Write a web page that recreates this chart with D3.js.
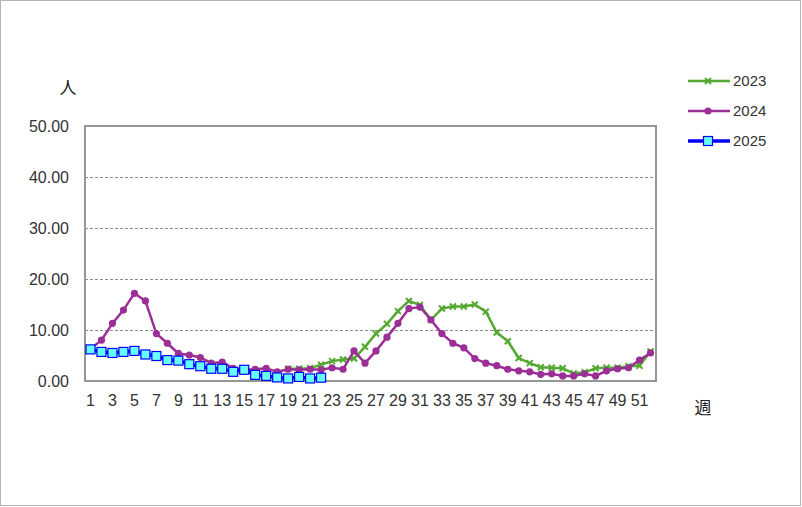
<!DOCTYPE html>
<html><head><meta charset="utf-8">
<script src="https://cdn.jsdelivr.net/npm/d3@7"></script>
<style>body{margin:0;background:#fff;} svg{display:block;}</style>
</head><body>
<svg id="c" width="802" height="507"></svg>
<script>
const weeks = d3.range(1, 53);
const xTickLabels = d3.range(1, 52, 2);
const yTicks = [0, 10, 20, 30, 40, 50];
const seriesNames = ["2023", "2024", "2025"];
const start2023 = 19;
const values2023 = [2.4, 2.4, 2.5, 3.2, 3.9, 4.2, 4.4, 6.7, 9.3, 11.2, 13.7, 15.7, 14.9, 12.0, 14.2, 14.6, 14.6, 15.0, 13.6, 9.5, 7.8, 4.5, 3.5, 2.7, 2.6, 2.5, 1.5, 1.7, 2.5, 2.6, 2.6, 2.9, 3.0, 5.8];
const values2024 = [6.3, 8.0, 11.3, 13.9, 17.2, 15.7, 9.3, 7.4, 5.4, 5.1, 4.6, 3.5, 3.7, 2.5, 2.2, 2.3, 2.5, 1.8, 2.3, 2.2, 2.3, 2.2, 2.6, 2.3, 5.9, 3.5, 5.9, 8.6, 11.3, 14.2, 14.5, 12.0, 9.3, 7.4, 6.5, 4.4, 3.5, 3.0, 2.3, 2.0, 1.8, 1.3, 1.4, 1.0, 1.0, 1.4, 1.0, 2.0, 2.4, 2.6, 4.1, 5.5];
const values2025 = [6.2, 5.7, 5.5, 5.7, 5.9, 5.2, 4.9, 4.1, 4.0, 3.3, 2.9, 2.4, 2.4, 1.8, 2.2, 1.2, 1.0, 0.7, 0.5, 0.8, 0.5, 0.65];

const svg = d3.select("#c");
const W = 802, H = 507;
const m = {left: 85, right: 146, top: 126, bottom: 126};
const x = d3.scaleBand().domain(weeks).range([m.left, W - m.right]);
const y = d3.scaleLinear().domain([0, 50]).range([H - m.bottom, m.top]);
const font = "'Liberation Sans', Arial, sans-serif";

svg.append("rect").attr("x", 0.5).attr("y", 0.5).attr("width", 800).attr("height", 505)
  .attr("fill", "#fff").attr("stroke", "#b4b4b4");

// grid
svg.append("g").selectAll("line").data(yTicks.filter(d => d > 0 && d < 50)).join("line")
  .attr("x1", m.left).attr("x2", W - m.right)
  .attr("y1", d => Math.round(y(d)) + 0.5).attr("y2", d => Math.round(y(d)) + 0.5)
  .attr("stroke", "#8c8c8c").attr("stroke-dasharray", "3,2").attr("stroke-width", 1);

// frame
svg.append("rect").attr("x", m.left).attr("y", m.top)
  .attr("width", W - m.right - m.left).attr("height", H - m.bottom - m.top)
  .attr("fill", "none").attr("stroke", "#969696").attr("stroke-width", 2);

// y axis labels
const yAxis = d3.axisLeft(y).tickValues(yTicks).tickFormat(d3.format(".2f")).tickSize(0).tickPadding(16);
const gy = svg.append("g").attr("transform", `translate(${m.left},0)`).call(yAxis);
gy.select(".domain").remove();
gy.selectAll("text").attr("font-family", font).attr("font-size", 16).attr("fill", "#333");

// x axis labels
const xAxis = d3.axisBottom(x).tickValues(xTickLabels).tickSize(0).tickPadding(14);
const gx = svg.append("g").attr("transform", `translate(0,${H - m.bottom})`).call(xAxis);
gx.select(".domain").remove();
gx.selectAll("text").attr("font-family", font).attr("font-size", 16).attr("fill", "#333");

const cx = w => x(w) + x.bandwidth() / 2;
const data2023 = values2023.map((v, i) => ({w: start2023 + i, v}));
const data2024 = values2024.map((v, i) => ({w: i + 1, v}));
const data2025 = values2025.map((v, i) => ({w: i + 1, v}));
const line = d3.line().x(d => cx(d.w)).y(d => y(d.v));

const colors = {"2023": "#55a832", "2024": "#9b2f96", "2025": "#0000ff"};

function drawCross(g, px, py, s, col) {
  g.append("path").attr("d", `M${px - s},${py - s}L${px + s},${py + s}M${px - s},${py + s}L${px + s},${py - s}`)
    .attr("stroke", col).attr("stroke-width", 2);
}
function drawCircle(g, px, py, col) {
  g.append("circle").attr("cx", px).attr("cy", py).attr("r", 3.6).attr("fill", col);
}
function drawSquare(g, px, py) {
  g.append("rect").attr("x", px - 4.5).attr("y", py - 4.5).attr("width", 9).attr("height", 9)
    .attr("fill", "#66ffff").attr("stroke", "#0000ff").attr("stroke-width", 1.2);
}

// 2023
const g23 = svg.append("g");
g23.append("path").datum(data2023).attr("d", line).attr("fill", "none").attr("stroke", colors["2023"]).attr("stroke-width", 2.5);
data2023.forEach(d => drawCross(g23, cx(d.w), y(d.v), 3, colors["2023"]));
// 2024
const g24 = svg.append("g");
g24.append("path").datum(data2024).attr("d", line).attr("fill", "none").attr("stroke", colors["2024"]).attr("stroke-width", 2.5);
data2024.forEach(d => drawCircle(g24, cx(d.w), y(d.v), colors["2024"]));
// 2025
const g25 = svg.append("g");
g25.append("path").datum(data2025).attr("d", line).attr("fill", "none").attr("stroke", colors["2025"]).attr("stroke-width", 3.5);
data2025.forEach(d => drawSquare(g25, cx(d.w), y(d.v)));

// legend
const lg = svg.append("g");
seriesNames.forEach((s, i) => {
  const ly = 81 + i * 30;
  lg.append("line").attr("x1", 688).attr("x2", 730).attr("y1", ly).attr("y2", ly)
    .attr("stroke", colors[s]).attr("stroke-width", s === "2025" ? 3.5 : 2.5);
  if (s === "2023") drawCross(lg, 708, ly, 3, colors[s]);
  if (s === "2024") drawCircle(lg, 708, ly, colors[s]);
  if (s === "2025") drawSquare(lg, 708, ly);
  lg.append("text").attr("x", 733).attr("y", ly).attr("dy", "0.36em").text(s)
    .attr("font-family", font).attr("font-size", 15).attr("fill", "#333");
});

// axis titles
svg.append("text").attr("x", 68).attr("y", 88).attr("dy", "0.36em").attr("text-anchor", "middle")
  .attr("font-family", "'Noto Sans CJK JP', sans-serif").attr("font-size", 17).attr("fill", "#222").text("人");
svg.append("text").attr("x", 703).attr("y", 408).attr("dy", "0.36em").attr("text-anchor", "middle")
  .attr("font-family", "'Noto Sans CJK JP', sans-serif").attr("font-size", 17).attr("fill", "#222").text("週");
</script>
</body></html>
